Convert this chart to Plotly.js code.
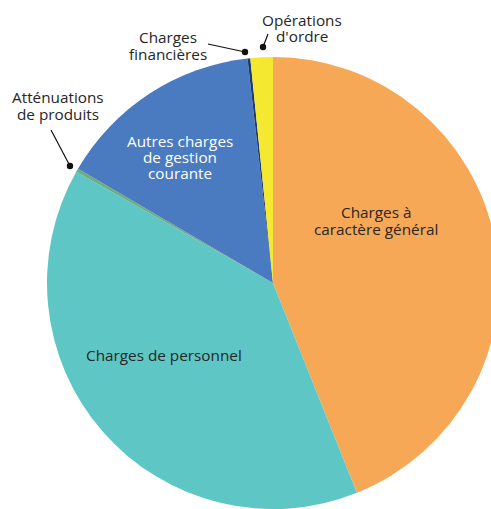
<!DOCTYPE html>
<html>
<head>
<meta charset="utf-8">
<script src="https://cdn.plot.ly/plotly-3.0.1.min.js"></script>
<style>html,body{margin:0;padding:0;overflow:hidden;background:#fff;}</style>
</head>
<body>
<div id="chart" style="width:520px;height:509px;"></div>
<script>
// Data
const categories = [
  "Charges à caractère général",
  "Charges de personnel",
  "Atténuations de produits",
  "Autres charges de gestion courante",
  "Charges financières",
  "Opérations d'ordre"
];
const values = [43.9, 39.2, 0.25, 14.75, 0.2, 1.6];
const colors = ["#F7A856", "#5EC6C4", "#6BAE7F", "#4A7ABF", "#1D3B73", "#F4E830"];

const W = 520, H = 509;
const FONT = "Open Sans, Noto Sans, sans-serif";
const dark = "#262626";
const FS = 15.3;

const trace = {
  type: "pie",
  labels: categories,
  values: values,
  sort: false,
  direction: "clockwise",
  rotation: 0,
  marker: {colors: colors, line: {width: 0}},
  textinfo: "none",
  hoverinfo: "skip",
  showlegend: false,
  domain: {x: [47 / W, 499 / W], y: [0, 452 / H]}
};

// each label line as its own text, so line spacing follows the reference
function block(lines, x, yTop, gap, color) {
  return lines.map((t, i) => ({text: t, x: x, y: yTop + i * gap, xref: "x", yref: "y",
    showarrow: false, font: {family: FONT, size: FS, color: color || dark},
    xanchor: "center", yanchor: "middle"}));
}

const annotations = [].concat(
  block(["Charges à", "caractère général"], 376, 212, 17),
  block(["Charges de personnel"], 164, 355, 17),
  block(["Autres charges", "de gestion", "courante"], 180, 141, 16, "#ffffff"),
  block(["Atténuations", "de produits"], 58, 97, 16.5),
  block(["Charges", "financières"], 168, 37, 16.5),
  block(["Opérations", "d'ordre"], 302, 20, 15.5)
);

function line(x0, y0, x1, y1) {
  return {type: "line", xref: "x", yref: "y", x0: x0, y0: y0, x1: x1, y1: y1,
    line: {color: "#111", width: 1.2}};
}
function dot(x, y) {
  const r = 3.2;
  return {type: "circle", xref: "x", yref: "y", x0: x - r, x1: x + r, y0: y - r, y1: y + r,
    fillcolor: "#111", line: {width: 0}};
}
const shapes = [
  line(51, 130, 70, 166), dot(70, 166),
  line(208, 44, 245, 52), dot(245, 52),
  line(268, 34, 263, 47), dot(263, 47)
];

const layout = {
  width: W, height: H,
  margin: {l: 0, r: 0, t: 0, b: 0},
  paper_bgcolor: "#ffffff", plot_bgcolor: "rgba(0,0,0,0)",
  xaxis: {range: [0, W], visible: false, fixedrange: true},
  yaxis: {range: [H, 0], visible: false, fixedrange: true},
  annotations: annotations,
  shapes: shapes,
  font: {family: FONT}
};

Plotly.newPlot("chart", [trace], layout, {displayModeBar: false, staticPlot: true});
</script>
</body>
</html>
